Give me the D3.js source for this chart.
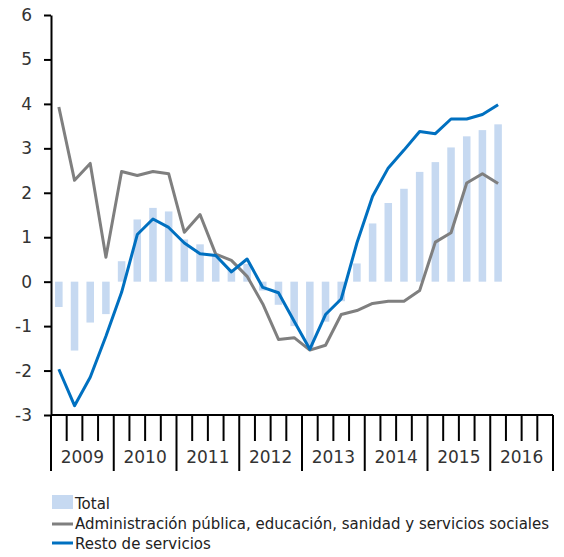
<!DOCTYPE html>
<html>
<head>
<meta charset="utf-8">
<script src="https://cdn.jsdelivr.net/npm/d3@7"></script>
<style>
  body { margin: 0; background: #fff; }
  text { font-family: "DejaVu Sans", sans-serif; }
</style>
</head>
<body>
<div class="chart"></div>
<script>
// quarterly series, 2009 T1 .. 2016 T1
const years = ["2009", "2010", "2011", "2012", "2013", "2014", "2015", "2016"];
const quarters = ["T1", "T2", "T3", "T4"];
const yTicks = [-3, -2, -1, 0, 1, 2, 3, 4, 5, 6];

const total = [-0.57, -1.55, -0.92, -0.73, 0.46, 1.40, 1.66, 1.58,
  0.95, 0.84, 0.60, 0.28, 0.40, -0.20, -0.52, -1.00,
  -1.50, -0.90, -0.44, 0.41, 1.31, 1.77, 2.09, 2.47,
  2.69, 3.02, 3.27, 3.41, 3.54];
const admin = [3.93, 2.28, 2.66, 0.55, 2.48, 2.39, 2.48, 2.43,
  1.11, 1.51, 0.62, 0.48, 0.12, -0.50, -1.30, -1.26,
  -1.54, -1.43, -0.74, -0.65, -0.49, -0.44, -0.44, -0.20,
  0.89, 1.10, 2.22, 2.43, 2.21];
const resto = [-1.97, -2.79, -2.15, -1.23, -0.24, 1.06, 1.41, 1.22,
  0.87, 0.63, 0.59, 0.22, 0.51, -0.13, -0.25, -0.89,
  -1.52, -0.74, -0.39, 0.87, 1.92, 2.56, 2.96, 3.38,
  3.33, 3.66, 3.66, 3.76, 3.98];

const legendLabels = ["Total",
  "Administración pública, educación, sanidad y servicios sociales",
  "Resto de servicios"];

const w = 564, h = 557;
const mLeft = 51, mRight = 553, mTop = 15, mBottom = 415;

const slots = [];
years.forEach(function (yr) {
  quarters.forEach(function (q) { slots.push(yr + q); });
});
const cats = slots.slice(0, total.length);

const x = d3.scaleBand()
  .domain(slots)
  .range([mLeft, mRight]);

const y = d3.scaleLinear()
  .domain([-3, 6])
  .range([mBottom, mTop]);

const svg = d3.select(".chart")
  .append("svg")
  .attr("width", w)
  .attr("height", h);

// bars
svg.selectAll("rect.bar")
  .data(total)
  .enter()
  .append("rect")
  .attr("class", "bar")
  .attr("fill", "#c6d9f1")
  .attr("x", function (d, i) { return x(cats[i]) + x.bandwidth() * 0.26; })
  .attr("width", x.bandwidth() * 0.48)
  .attr("y", function (d) { return y(Math.max(0, d)); })
  .attr("height", function (d) { return Math.abs(y(d) - y(0)); });

// lines
const line = d3.line()
  .x(function (d, i) { return x(cats[i]) + x.bandwidth() / 2; })
  .y(function (d) { return y(d); });

svg.append("path")
  .datum(admin)
  .attr("fill", "none")
  .attr("stroke", "#7f7f7f")
  .attr("stroke-width", 3)
  .attr("stroke-linejoin", "round")
  .attr("d", line);

svg.append("path")
  .datum(resto)
  .attr("fill", "none")
  .attr("stroke", "#0070c0")
  .attr("stroke-width", 3)
  .attr("stroke-linejoin", "round")
  .attr("d", line);

// y axis (plain hyphen for negatives, as in the original)
const yAxis = svg.append("g")
  .attr("transform", "translate(" + mLeft + ",0)")
  .call(d3.axisLeft(y)
    .tickValues(yTicks)
    .tickFormat(function (d) { return String(d); })
    .tickSize(7).tickSizeOuter(0).tickPadding(12));
yAxis.select(".domain").attr("stroke", "#000").attr("stroke-width", 2);
yAxis.selectAll(".tick line").attr("stroke", "#000").attr("stroke-width", 2);
yAxis.selectAll(".tick text")
  .attr("font-size", 17)
  .attr("fill", "#333")
  .attr("font-family", "DejaVu Sans");

// x axis: quarter ticks + year ticks
const xAxis = svg.append("g")
  .attr("transform", "translate(0," + mBottom + ")");
xAxis.append("line")
  .attr("x1", mLeft).attr("x2", mRight)
  .attr("stroke", "#000").attr("stroke-width", 2);
xAxis.selectAll("line.q")
  .data(slots)
  .enter()
  .append("line")
  .attr("x1", function (d) { return x(d); })
  .attr("x2", function (d) { return x(d); })
  .attr("y1", 0)
  .attr("y2", function (d, i) { return i % 4 === 0 ? 56 : 26; })
  .attr("stroke", "#000").attr("stroke-width", 2);
xAxis.append("line")
  .attr("x1", mRight).attr("x2", mRight)
  .attr("y1", 0).attr("y2", 56)
  .attr("stroke", "#000").attr("stroke-width", 2);
xAxis.selectAll("text.year")
  .data(years)
  .enter()
  .append("text")
  .attr("x", function (d) { return x(d + "T1") + x.bandwidth() * 2; })
  .attr("y", 48)
  .attr("text-anchor", "middle")
  .attr("font-size", 17)
  .attr("fill", "#333")
  .text(function (d) { return d; });

// legend
const lg = svg.append("g");
lg.append("rect")
  .attr("x", 52).attr("y", 495)
  .attr("width", 21).attr("height", 14)
  .attr("fill", "#c6d9f1");
lg.append("line")
  .attr("x1", 52).attr("x2", 73).attr("y1", 524).attr("y2", 524)
  .attr("stroke", "#7f7f7f").attr("stroke-width", 3);
lg.append("line")
  .attr("x1", 52).attr("x2", 73).attr("y1", 543).attr("y2", 543)
  .attr("stroke", "#0070c0").attr("stroke-width", 3);
lg.selectAll("text")
  .data(legendLabels)
  .enter()
  .append("text")
  .attr("x", 75)
  .attr("y", function (d, i) { return 509 + i * 20; })
  .attr("font-size", 15)
  .attr("font-family", "Liberation Sans Narrow, Liberation Sans, sans-serif")
  .attr("fill", "#222")
  .text(function (d) { return d; })
  .each(function (d, i) {
    if (i === 1) d3.select(this).attr("textLength", 474).attr("lengthAdjust", "spacingAndGlyphs");
  });
</script>
</body>
</html>
